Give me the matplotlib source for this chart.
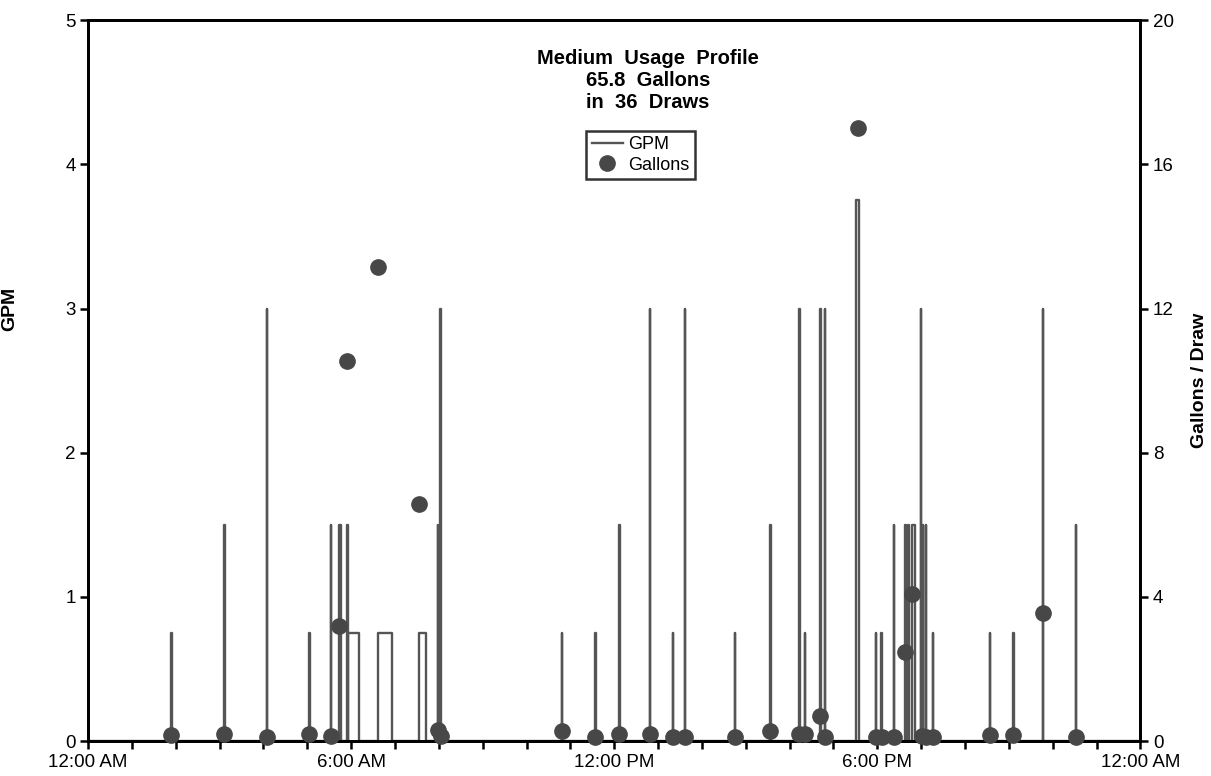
import matplotlib
matplotlib.use("Agg")
import matplotlib.pyplot as plt
from matplotlib.ticker import MultipleLocator, FixedLocator

plt.rcParams["font.family"] = ["Liberation Sans", "DejaVu Sans"]

# Flow draws: start hour, end hour, flow rate (GPM)
draw_start = [1.90, 3.11, 4.08, 5.05, 5.53, 5.72, 5.91, 5.93, 6.62, 7.54,
              7.97, 8.03, 10.81, 11.57, 12.12, 12.81, 13.33, 13.61, 14.75,
              15.56, 16.22, 16.34, 16.70, 16.80, 17.52, 17.96, 18.09, 18.38,
              18.64, 18.71, 18.80, 18.99, 19.04, 19.10, 19.27, 20.57, 21.10,
              21.77, 22.53]
draw_end = [1.91, 3.12, 4.09, 5.06, 5.54, 5.76, 5.93, 6.17, 6.94, 7.71,
            7.98, 8.04, 10.82, 11.58, 12.13, 12.82, 13.34, 13.62, 14.76,
            15.57, 16.23, 16.35, 16.71, 16.81, 17.58, 17.97, 18.10, 18.39,
            18.65, 18.72, 18.85, 19.00, 19.05, 19.11, 19.28, 20.58, 21.11,
            21.78, 22.54]
draw_gpm = [0.75, 1.5, 3.0, 0.75, 1.5, 1.5, 1.5, 0.75, 0.75, 0.75,
            1.5, 3.0, 0.75, 0.75, 1.5, 3.0, 0.75, 3.0, 0.75,
            1.5, 3.0, 0.75, 3.0, 3.0, 3.75, 0.75, 0.75, 1.5,
            1.5, 1.5, 1.5, 3.0, 1.5, 1.5, 0.75, 0.75, 0.75,
            3.0, 1.5]

# Gallons per draw, placed at the draw start
gal_hour = [1.90, 3.11, 4.08, 5.05, 5.53, 5.72, 5.91, 6.62, 7.55, 7.97,
            8.05, 10.81, 11.57, 12.12, 12.81, 13.33, 13.61, 14.75, 15.56,
            16.22, 16.34, 16.70, 16.80, 17.55, 17.96, 18.10, 18.38, 18.64,
            18.80, 19.02, 19.10, 19.27, 20.57, 21.10, 21.77, 22.53]
gal_value = [0.18, 0.20, 0.11, 0.21, 0.14, 3.2, 10.55, 13.15, 6.57, 0.30,
             0.14, 0.29, 0.11, 0.20, 0.20, 0.11, 0.11, 0.12, 0.29,
             0.20, 0.20, 0.70, 0.11, 17.0, 0.11, 0.11, 0.11, 2.47,
             4.07, 0.15, 0.11, 0.11, 0.18, 0.18, 3.56, 0.11]

x_ticks = [0, 6, 12, 18, 24]
x_labels = ["12:00 AM", "6:00 AM", "12:00 PM", "6:00 PM", "12:00 AM"]

# build the step trace
t = [0.0]
g = [0.0]
for s, e, v in zip(draw_start, draw_end, draw_gpm):
    t += [s, s, e, e]
    g += [0.0, v, v, 0.0]
t.append(24.0)
g.append(0.0)

fig = plt.figure(figsize=(12.11, 7.76), dpi=100)
ax = fig.add_axes([0.0727, 0.045, 0.869, 0.929])
ax2 = ax.twinx()

line, = ax.plot(t, g, color="#555555", linewidth=1.7, label="GPM")
dots, = ax2.plot(gal_hour, gal_value, "o", color="#474747", markersize=11,
                 clip_on=False, zorder=5, label="Gallons")

ax.set_xlim(0, 24)
ax.set_ylim(0, 5)
ax2.set_ylim(0, 20)

ax.xaxis.set_major_locator(FixedLocator(x_ticks))
ax.set_xticklabels(x_labels)
ax.xaxis.set_minor_locator(MultipleLocator(1))
ax.yaxis.set_major_locator(MultipleLocator(1))
ax2.yaxis.set_major_locator(MultipleLocator(4))

ax.tick_params(axis="both", which="both", direction="out", width=1.8,
               length=6, labelsize=13.5, pad=3)
ax2.tick_params(axis="y", direction="out", width=1.8, length=6,
                labelsize=13.5, pad=3)

for a in (ax, ax2):
    for sp in a.spines.values():
        sp.set_linewidth(2)
        sp.set_color("black")

ax.set_ylabel("GPM", fontsize=14, fontweight="bold")
ax.yaxis.set_label_coords(-0.066, 0.6)
ax2.set_ylabel("Gallons / Draw", fontsize=14, fontweight="bold", labelpad=12)

ax.text(0.532, 0.917, "Medium  Usage  Profile\n65.8  Gallons\nin  36  Draws",
        transform=ax.transAxes, ha="center", va="center", fontsize=14.5,
        fontweight="bold", linespacing=1.2)

leg = ax.legend([line, dots], ["GPM", "Gallons"], loc="center",
                bbox_to_anchor=(0.525, 0.813), frameon=True, fancybox=False,
                edgecolor="black", fontsize=13, handlelength=1.7,
                handletextpad=0.3, borderpad=0.3, labelspacing=0.2,
                borderaxespad=0)
leg.get_frame().set_linewidth(1.8)
leg.set_zorder(10)

fig.savefig("out.png", dpi=100)
